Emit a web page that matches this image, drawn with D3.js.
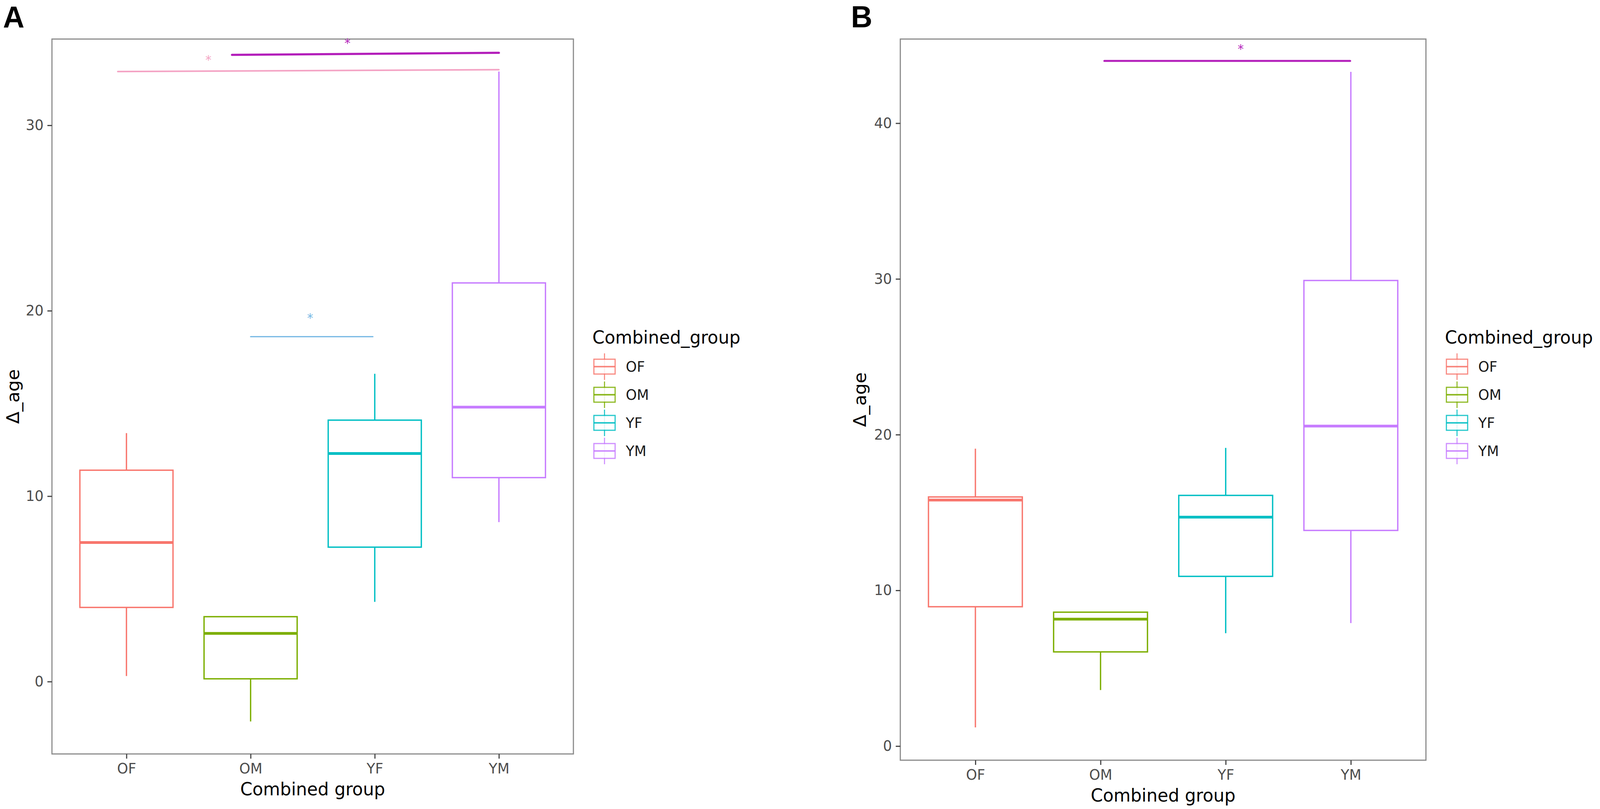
<!DOCTYPE html>
<html><head><meta charset="utf-8">
<script src="https://cdn.jsdelivr.net/npm/d3@7/dist/d3.min.js"></script>
<style>html,body{margin:0;padding:0;background:#fff;overflow:hidden;width:100%;height:100%;}svg{display:block;width:100vw;height:100vh;}</style>
</head><body>
<svg id="chart" viewBox="0 0 4219 2072" preserveAspectRatio="none"></svg>
<script>
// ---------- data ----------
const categories = ["OF", "OM", "YF", "YM"];
const groupColors = ["#F8766D", "#7CAE00", "#00BFC4", "#C77CFF"];

// Panel A
const aLow  = [0.3, -2.15, 4.3, 8.6];
const aQ1   = [4.0, 0.15, 7.25, 11.0];
const aMed  = [7.5, 2.6, 12.3, 14.8];
const aQ3   = [11.4, 3.5, 14.1, 21.5];
const aHigh = [13.4, 3.5, 16.6, 32.9];
const aTicks = [0, 10, 20, 30];

// Panel B
const bLow  = [1.2, 3.6, 7.25, 7.9];
const bQ1   = [8.95, 6.05, 10.9, 13.85];
const bMed  = [15.8, 8.15, 14.7, 20.55];
const bQ3   = [16.0, 8.6, 16.1, 29.9];
const bHigh = [19.1, 8.6, 19.15, 43.3];
const bTicks = [0, 10, 20, 30, 40];

// significance brackets (x in category units, y in data units)
const aSigX1 = [0.93, 1.85, 2.0];
const aSigX2 = [4.0, 4.0, 2.985];
const aSigY1 = [32.9, 33.8, 18.6];
const aSigY2 = [33.0, 33.91, 18.6];
const aStarX = [1.66, 2.78, 2.48];
const aStarY = [33.55, 34.46, 19.63];
const aSigLabel = ["*", "*", "*"];

const bSigX1 = [2.03];
const bSigX2 = [3.995];
const bSigY1 = [44.0];
const bSigY2 = [44.0];
const bStarX = [3.12];
const bStarY = [44.8];
const bSigLabel = ["*"];

// ---------- styles ----------
const aSigColors = ["#F4A3C4", "#B31DBA", "#72B6E3"];
const aSigWidths = [4, 5.5, 3];
const bSigColors = ["#B31DBA"];
const bSigWidths = [5];
const FONT = "'DejaVu Sans', Verdana, sans-serif";

const svg = d3.select("#chart");
svg.append("rect").attr("width", 4219).attr("height", 2072).attr("fill", "#fff");

function drawPanel(cfg) {
  const {left, right, top, bottom, low, q1, med, q3, high, ticks,
         sigX1, sigX2, sigY1, sigY2, starX, starY, sigLabel, sigColors, sigWidths,
         letter, letterX, letterY, yTitleX, legendX, legendY} = cfg;
  const g = svg.append("g");
  const x = d3.scaleLinear().domain([0.4, 4.6]).range([left, right]);
  const lo = d3.min(low), hi = d3.max(high);
  const pad = (hi - lo) * 0.05;
  const y = d3.scaleLinear().domain([lo - pad, hi + pad]).range([bottom, top]);
  const unit = x(2) - x(1);
  const bw = unit * 0.75;

  // panel border
  g.append("rect").attr("x", left).attr("y", top)
    .attr("width", right - left).attr("height", bottom - top)
    .attr("fill", "#fff").attr("stroke", "#8a8a8a").attr("stroke-width", 3);

  // axes
  const yAxis = d3.axisLeft(y).tickValues(ticks).tickSize(12).tickPadding(10).tickFormat(d3.format("d"));
  const ya = g.append("g").attr("transform", `translate(${left},0)`).call(yAxis);
  ya.select(".domain").remove();
  ya.selectAll(".tick line").attr("stroke", "#444").attr("stroke-width", 3);
  ya.selectAll(".tick text").attr("fill", "#4D4D4D").attr("font-size", 37).attr("font-family", FONT);

  const xAxis = d3.axisBottom(x).tickValues([1, 2, 3, 4]).tickSize(12).tickPadding(12)
    .tickFormat(d => categories[d - 1]);
  const xa = g.append("g").attr("transform", `translate(0,${bottom})`).call(xAxis);
  xa.select(".domain").remove();
  xa.selectAll(".tick line").attr("stroke", "#444").attr("stroke-width", 3);
  xa.selectAll(".tick text").attr("fill", "#4D4D4D").attr("font-size", 37).attr("font-family", FONT);

  // boxes
  const boxes = g.append("g");
  categories.forEach((c, i) => {
    const cx = x(i + 1), col = groupColors[i];
    const bg = boxes.append("g");
    if (high[i] > q3[i])
      bg.append("line").attr("x1", cx).attr("x2", cx).attr("y1", y(q3[i])).attr("y2", y(high[i]))
        .attr("stroke", col).attr("stroke-width", 3.5);
    if (low[i] < q1[i])
      bg.append("line").attr("x1", cx).attr("x2", cx).attr("y1", y(q1[i])).attr("y2", y(low[i]))
        .attr("stroke", col).attr("stroke-width", 3.5);
    bg.append("rect").attr("x", cx - bw / 2).attr("width", bw)
      .attr("y", y(q3[i])).attr("height", y(q1[i]) - y(q3[i]))
      .attr("fill", "#fff").attr("stroke", col).attr("stroke-width", 3.5);
    bg.append("line").attr("x1", cx - bw / 2).attr("x2", cx + bw / 2)
      .attr("y1", y(med[i])).attr("y2", y(med[i]))
      .attr("stroke", col).attr("stroke-width", 7);
  });

  // significance
  sigX1.forEach((v, i) => {
    g.append("line").attr("x1", x(sigX1[i])).attr("x2", x(sigX2[i]))
      .attr("y1", y(sigY1[i])).attr("y2", y(sigY2[i]))
      .attr("stroke", sigColors[i]).attr("stroke-width", sigWidths[i]).attr("stroke-linecap", "round");
    g.append("text").attr("x", x(starX[i])).attr("y", y(starY[i]) + 12)
      .attr("text-anchor", "middle").attr("font-size", 32).attr("font-family", FONT)
      .attr("fill", sigColors[i]).text(sigLabel[i]);
  });

  // titles
  g.append("text").attr("x", (left + right) / 2).attr("y", bottom + 106)
    .attr("text-anchor", "middle").attr("font-size", 46).attr("font-family", FONT)
    .attr("fill", "#000").text("Combined group");
  g.append("text").attr("transform", `translate(${yTitleX},${(top + bottom) / 2}) rotate(-90)`)
    .attr("text-anchor", "middle").attr("dominant-baseline", "central")
    .attr("font-size", 46).attr("font-family", FONT).attr("fill", "#000").text("Δ_age");

  // panel letter
  g.append("text").attr("x", letterX).attr("y", letterY)
    .attr("font-size", 78).attr("font-weight", "bold").attr("font-family", "'Liberation Sans', Arial, sans-serif")
    .attr("fill", "#000").text(letter);

  // legend
  const lg = g.append("g").attr("transform", `translate(${legendX},${legendY})`);
  lg.append("text").attr("x", 0).attr("y", 16).attr("font-size", 46).attr("font-family", FONT)
    .attr("fill", "#000").text("Combined_group");
  categories.forEach((c, i) => {
    const cy = 75 + i * 72;
    const kx = 4, kw = 56, col = groupColors[i];
    lg.append("line").attr("x1", kx + kw / 2).attr("x2", kx + kw / 2).attr("y1", cy - 34).attr("y2", cy + 34)
      .attr("stroke", col).attr("stroke-width", 3).attr("opacity", 0.8);
    lg.append("rect").attr("x", kx).attr("y", cy - 19).attr("width", kw).attr("height", 38)
      .attr("fill", "#fff").attr("stroke", col).attr("stroke-width", 3).attr("opacity", 0.85);
    lg.append("line").attr("x1", kx).attr("x2", kx + kw).attr("y1", cy).attr("y2", cy)
      .attr("stroke", col).attr("stroke-width", 4).attr("opacity", 0.85);
    lg.append("text").attr("x", 88).attr("y", cy).attr("dominant-baseline", "central")
      .attr("font-size", 37).attr("font-family", FONT).attr("fill", "#1a1a1a").text(c);
  });
}

drawPanel({left: 137, right: 1512, top: 100, bottom: 1931,
  low: aLow, q1: aQ1, med: aMed, q3: aQ3, high: aHigh, ticks: aTicks,
  sigX1: aSigX1, sigX2: aSigX2, sigY1: aSigY1, sigY2: aSigY2, starX: aStarX, starY: aStarY,
  sigLabel: aSigLabel, sigColors: aSigColors, sigWidths: aSigWidths,
  letter: "A", letterX: 8, letterY: 71, yTitleX: 35, legendX: 1562, legendY: 864});

drawPanel({left: 2374, right: 3760, top: 100, bottom: 1947,
  low: bLow, q1: bQ1, med: bMed, q3: bQ3, high: bHigh, ticks: bTicks,
  sigX1: bSigX1, sigX2: bSigX2, sigY1: bSigY1, sigY2: bSigY2, starX: bStarX, starY: bStarY,
  sigLabel: bSigLabel, sigColors: bSigColors, sigWidths: bSigWidths,
  letter: "B", letterX: 2244, letterY: 70, yTitleX: 2268, legendX: 3810, legendY: 864});
</script>
</body></html>
